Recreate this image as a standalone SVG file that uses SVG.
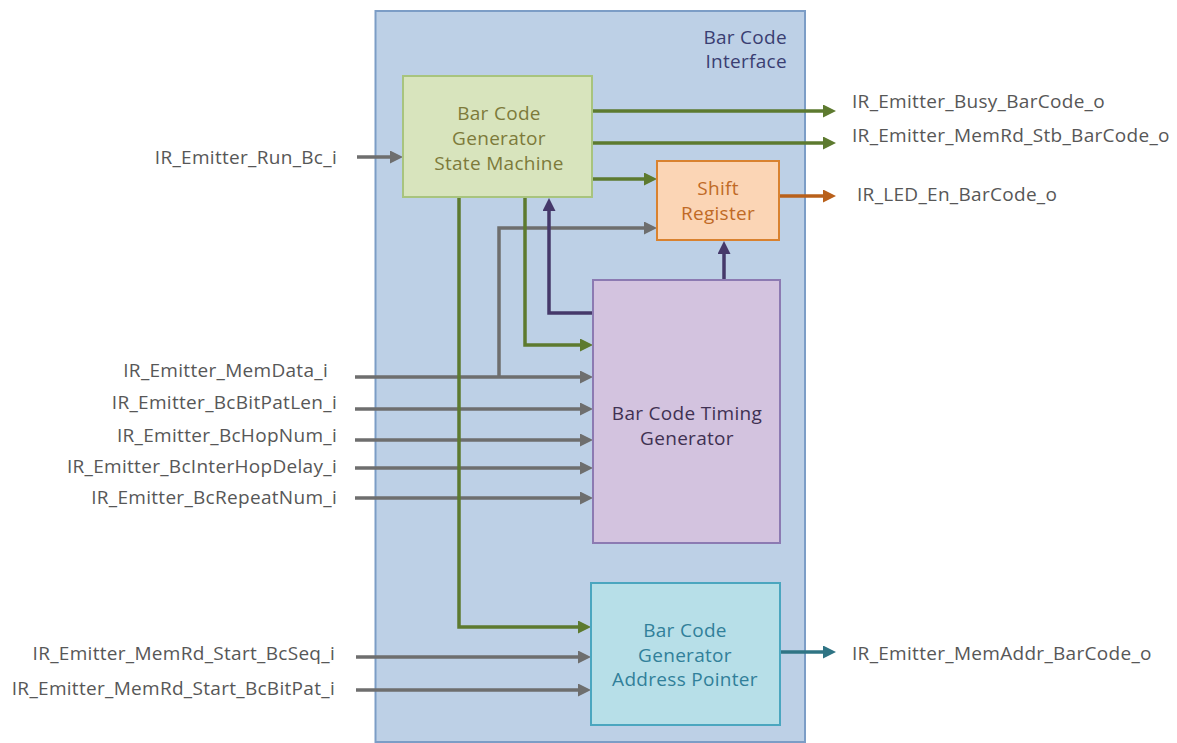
<svg xmlns="http://www.w3.org/2000/svg" width="1177" height="743" viewBox="0 0 1177 743">
<defs>
<style>
.lbl{font-family:"Open Sans","Liberation Sans",sans-serif;font-size:19px;letter-spacing:0.3px;fill:#575757}
.in{font-family:"Open Sans","Liberation Sans",sans-serif;font-size:19px;letter-spacing:0.3px;text-anchor:middle}
.ln{fill:none;stroke-width:3.5}
.g{stroke:#5d7a2f}.k{stroke:#6e6e6e}.p{stroke:#45386a}.o{stroke:#b9601a}.t{stroke:#2f7484}
</style>
<marker id="ag" markerUnits="userSpaceOnUse" markerWidth="14" markerHeight="14" refX="2" refY="6.5" orient="auto"><path d="M0,0 L13,6.5 L0,13 z" fill="#5d7a2f"/></marker>
<marker id="ak" markerUnits="userSpaceOnUse" markerWidth="14" markerHeight="14" refX="2" refY="6.5" orient="auto"><path d="M0,0 L13,6.5 L0,13 z" fill="#6e6e6e"/></marker>
<marker id="ap" markerUnits="userSpaceOnUse" markerWidth="14" markerHeight="14" refX="2" refY="6.5" orient="auto"><path d="M0,0 L13,6.5 L0,13 z" fill="#45386a"/></marker>
<marker id="ao" markerUnits="userSpaceOnUse" markerWidth="14" markerHeight="14" refX="2" refY="6.5" orient="auto"><path d="M0,0 L13,6.5 L0,13 z" fill="#b9601a"/></marker>
<marker id="at" markerUnits="userSpaceOnUse" markerWidth="14" markerHeight="14" refX="2" refY="6.5" orient="auto"><path d="M0,0 L13,6.5 L0,13 z" fill="#2f7484"/></marker>
</defs>
<rect width="1177" height="743" fill="#ffffff"/>
<g id="container">
<rect x="375.5" y="11" width="429.5" height="731" fill="#bdd0e6" stroke="#7c9dc6" stroke-width="2"/>
<text class="in" x="787" y="44" style="text-anchor:end;fill:#3a3e72">Bar Code</text>
<text class="in" x="787" y="68" style="text-anchor:end;fill:#3a3e72">Interface</text>
</g>
<g id="connectors">
<path class="ln k" d="M357,157 H392" marker-end="url(#ak)"/>
<path class="ln g" d="M592,111 H825" marker-end="url(#ag)"/>
<path class="ln g" d="M592,143 H825" marker-end="url(#ag)"/>
<path class="ln g" d="M592,179 H646" marker-end="url(#ag)"/>
<path class="ln o" d="M779,196 H825" marker-end="url(#ao)"/>
<path class="ln k" d="M499,377 V228 H646" marker-end="url(#ak)"/>
<path class="ln k" d="M355,377 H582" marker-end="url(#ak)"/>
<path class="ln k" d="M355,409 H582" marker-end="url(#ak)"/>
<path class="ln k" d="M355,440 H582" marker-end="url(#ak)"/>
<path class="ln k" d="M355,468 H582" marker-end="url(#ak)"/>
<path class="ln k" d="M355,498 H582" marker-end="url(#ak)"/>
<path class="ln p" d="M593,313 H549 V209" marker-end="url(#ap)"/>
<path class="ln p" d="M724,280 V252" marker-end="url(#ap)"/>
<path class="ln g" d="M525,197 V345 H582" marker-end="url(#ag)"/>
<path class="ln g" d="M459,197 V627 H580" marker-end="url(#ag)"/>
<path class="ln k" d="M356,657 H580" marker-end="url(#ak)"/>
<path class="ln k" d="M356,690 H580" marker-end="url(#ak)"/>
<path class="ln t" d="M780,652 H825" marker-end="url(#at)"/>
</g>
<g id="state-machine">
<rect x="403" y="76" width="189" height="121" fill="#d8e4bd" stroke="#a8c47e" stroke-width="2"/>
<text class="in" x="499" y="120" fill="#7d7a3a">Bar Code</text>
<text class="in" x="499" y="145" fill="#7d7a3a">Generator</text>
<text class="in" x="499" y="170" fill="#7d7a3a">State Machine</text>
</g>
<g id="shift-register">
<rect x="657" y="161" width="122" height="79" fill="#fbd5b5" stroke="#d9822f" stroke-width="2"/>
<text class="in" x="718" y="195" fill="#c06a26">Shift</text>
<text class="in" x="718" y="220" fill="#c06a26">Register</text>
</g>
<g id="timing-generator">
<rect x="593" y="280" width="187" height="263" fill="#d3c3df" stroke="#8c7ab2" stroke-width="2"/>
<text class="in" x="687" y="420" fill="#3f3152">Bar Code Timing</text>
<text class="in" x="687" y="445" fill="#3f3152">Generator</text>
</g>
<g id="address-pointer">
<rect x="591" y="583" width="189" height="142" fill="#b7dfe8" stroke="#4ba6bf" stroke-width="2"/>
<text class="in" x="685" y="637" fill="#31809a">Bar Code</text>
<text class="in" x="685" y="662" fill="#31809a">Generator</text>
<text class="in" x="685" y="686" fill="#31809a">Address Pointer</text>
</g>
<g id="labels">
<text class="lbl" x="337" y="164" text-anchor="end">IR_Emitter_Run_Bc_i</text>
<text class="lbl" x="328" y="377" text-anchor="end">IR_Emitter_MemData_i</text>
<text class="lbl" x="337" y="409" text-anchor="end">IR_Emitter_BcBitPatLen_i</text>
<text class="lbl" x="337" y="442" text-anchor="end">IR_Emitter_BcHopNum_i</text>
<text class="lbl" x="337" y="473" text-anchor="end">IR_Emitter_BcInterHopDelay_i</text>
<text class="lbl" x="337" y="504" text-anchor="end">IR_Emitter_BcRepeatNum_i</text>
<text class="lbl" x="335" y="660" text-anchor="end">IR_Emitter_MemRd_Start_BcSeq_i</text>
<text class="lbl" x="335" y="695" text-anchor="end">IR_Emitter_MemRd_Start_BcBitPat_i</text>
<text class="lbl" x="852" y="108">IR_Emitter_Busy_BarCode_o</text>
<text class="lbl" x="852" y="142">IR_Emitter_MemRd_Stb_BarCode_o</text>
<text class="lbl" x="857" y="201">IR_LED_En_BarCode_o</text>
<text class="lbl" x="852" y="660">IR_Emitter_MemAddr_BarCode_o</text>
</g>
</svg>
